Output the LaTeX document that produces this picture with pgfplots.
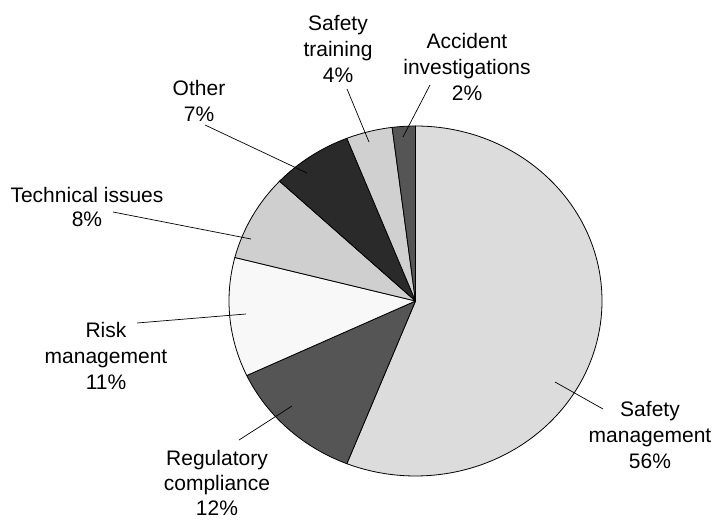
\documentclass[border=0pt]{standalone}
\usepackage{fontspec}
\setmainfont{Liberation Sans}
\usepackage{pgfplots}
\pgfplotsset{compat=1.18}
\definecolor{cSM}{HTML}{DCDCDC}
\definecolor{cRC}{HTML}{555555}
\definecolor{cRM}{HTML}{F8F8F8}
\definecolor{cTI}{HTML}{CFCFCF}
\definecolor{cOT}{HTML}{2A2A2A}
\definecolor{cST}{HTML}{D0D0D0}
\definecolor{cAI}{HTML}{555555}

\begin{document}
\begin{tikzpicture}
\begin{axis}[
  scale only axis, width=715bp, height=522bp,
  xmin=0, xmax=715, ymin=0, ymax=522,
  hide axis, clip=false,
]
% pie centre and radii (axis units = px of the reference, y measured upward)
\def\cx{415.5}\def\cy{221}\def\rx{186.5}\def\ry{175}
\gdef\angstart{90}
% shares in percent, clockwise from the top
\foreach \v/\col in {56/cSM,12/cRC,11/cRM,8/cTI,7/cOT,4/cST,2/cAI}{
  \pgfmathsetmacro\angend{\angstart-3.6*\v}
  \pgfmathsetmacro\xs{\cx+\rx*cos(\angstart)}
  \pgfmathsetmacro\ys{\cy+\ry*sin(\angstart)}
  \edef\temp{\noexpand\filldraw[fill=\col,draw=black,line width=0.8pt,line join=round]
    (axis cs:\cx,\cy) -- (axis cs:\xs,\ys)
    arc[start angle=\angstart,end angle=\angend,x radius=\rx,y radius=\ry] -- cycle;}
  \temp
  \xdef\angstart{\angend}
}
% leader lines
\draw[line width=0.7pt] (axis cs:347,433) -- (axis cs:369,380);
\draw[line width=0.7pt] (axis cs:430,437) -- (axis cs:403,385);
\draw[line width=0.7pt] (axis cs:205,397) -- (axis cs:307,349);
\draw[line width=0.7pt] (axis cs:113,310) -- (axis cs:251,283);
\draw[line width=0.7pt] (axis cs:137,199) -- (axis cs:246,208);
\draw[line width=0.7pt] (axis cs:239,82) -- (axis cs:292,116);
\draw[line width=0.7pt] (axis cs:555,140) -- (axis cs:603,113);
% labels
\tikzset{lab/.style={anchor=north,align=center,inner sep=0pt,
  font={\fontsize{21bp}{26bp}\selectfont}}}
\node[lab] at (axis cs:338,507) {Safety\\training\\4\%};
\node[lab] at (axis cs:467,489) {Accident\\investigations\\2\%};
\node[lab] at (axis cs:199,442) {Other\\7\%};
\node[lab,font={\fontsize{21bp}{24bp}\selectfont}] at (axis cs:87,335) {Technical issues\\8\%};
\node[lab] at (axis cs:106,200) {Risk\\management\\11\%};
\node[lab,font={\fontsize{21bp}{25bp}\selectfont}] at (axis cs:217,72) {Regulatory\\compliance\\12\%};
\node[lab] at (axis cs:650,121) {Safety\\management\\56\%};
\end{axis}
\pgfresetboundingbox
\useasboundingbox (0,0) rectangle (715bp,522bp);
\end{tikzpicture}
\end{document}
